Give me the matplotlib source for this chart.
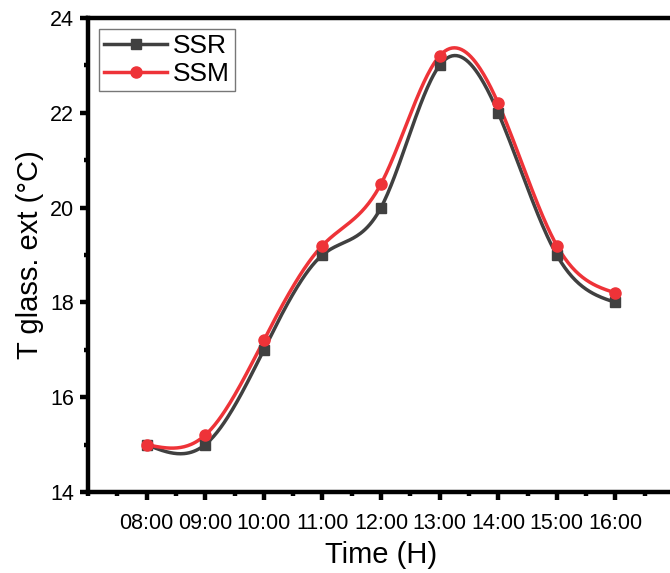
import numpy as np
import matplotlib
matplotlib.use('Agg')
import matplotlib.pyplot as plt
from matplotlib.ticker import MultipleLocator

plt.rcParams['font.family'] = ['Liberation Sans', 'DejaVu Sans']

hours = [8, 9, 10, 11, 12, 13, 14, 15, 16]
hour_labels = ['08:00', '09:00', '10:00', '11:00', '12:00', '13:00', '14:00', '15:00', '16:00']
ssr = [15.0, 15.0, 17.0, 19.0, 20.0, 23.0, 22.0, 19.0, 18.0]
ssm = [15.0, 15.2, 17.2, 19.2, 20.5, 23.2, 22.2, 19.2, 18.2]


def natural_spline(x, y, n=400):
    # plain natural cubic spline, only used to draw the smooth connecting line
    x = np.asarray(x, float)
    y = np.asarray(y, float)
    k = len(x)
    h = np.diff(x)
    A = np.zeros((k, k))
    b = np.zeros(k)
    A[0, 0] = A[-1, -1] = 1.0
    for i in range(1, k - 1):
        A[i, i - 1] = h[i - 1]
        A[i, i] = 2 * (h[i - 1] + h[i])
        A[i, i + 1] = h[i]
        b[i] = 6 * ((y[i + 1] - y[i]) / h[i] - (y[i] - y[i - 1]) / h[i - 1])
    m = np.linalg.solve(A, b)
    xs = np.linspace(x[0], x[-1], n)
    idx = np.clip(np.searchsorted(x, xs) - 1, 0, k - 2)
    x0, x1 = x[idx], x[idx + 1]
    hh = x1 - x0
    t0, t1 = x1 - xs, xs - x0
    ys = (m[idx] * t0 ** 3 + m[idx + 1] * t1 ** 3) / (6 * hh) \
        + (y[idx] / hh - m[idx] * hh / 6) * t0 + (y[idx + 1] / hh - m[idx + 1] * hh / 6) * t1
    return xs, ys


fig = plt.figure(figsize=(6.70, 5.73), dpi=100)
# axes runs slightly past the right edge, like the cropped original
ax = fig.add_axes([88 / 670, 81 / 573, 586 / 670, 474 / 573])

c_ssr = '#404040'
c_ssm = '#ee3338'

xs, ys = natural_spline(hours, ssr)
ax.plot(xs, ys, color=c_ssr, lw=2.5, zorder=3)
ax.plot(hours, ssr, 's', color=c_ssr, ms=7, zorder=4)
xs, ys = natural_spline(hours, ssm)
ax.plot(xs, ys, color=c_ssm, lw=2.5, zorder=3)
ax.plot(hours, ssm, 'o', color=c_ssm, ms=8, zorder=5)

# legend proxies
ax.plot([], [], '-s', color=c_ssr, lw=2.5, ms=7, label='SSR')
ax.plot([], [], '-o', color=c_ssm, lw=2.5, ms=8, label='SSM')
leg = ax.legend(loc='upper left', bbox_to_anchor=(0.0, 1.0), fontsize=19, frameon=True,
                fancybox=False, edgecolor='#555555', borderpad=0.2, handlelength=2.4,
                handletextpad=0.2, labelspacing=0.15, borderaxespad=0.4)
leg.get_frame().set_linewidth(1.0)

ax.set_xlim(7, 17)
ax.set_ylim(14, 24)
ax.set_xticks(hours)
ax.set_xticklabels(hour_labels)
ax.xaxis.set_minor_locator(MultipleLocator(0.5))
ax.yaxis.set_major_locator(MultipleLocator(2))
ax.yaxis.set_minor_locator(MultipleLocator(1))

for s in ['left', 'bottom', 'top', 'right']:
    ax.spines[s].set_linewidth(3.2)
ax.tick_params(which='major', direction='out', length=6, width=3.2, labelsize=15.5, pad=9)
ax.tick_params(which='minor', direction='out', length=3, width=3.2)
ax.tick_params(axis='y', which='major', pad=4)

ax.set_xlabel('Time (H)', fontsize=21, labelpad=5)
ax.set_ylabel('T glass. ext (°C)', fontsize=21, labelpad=4)

fig.savefig('out.png', dpi=100)
